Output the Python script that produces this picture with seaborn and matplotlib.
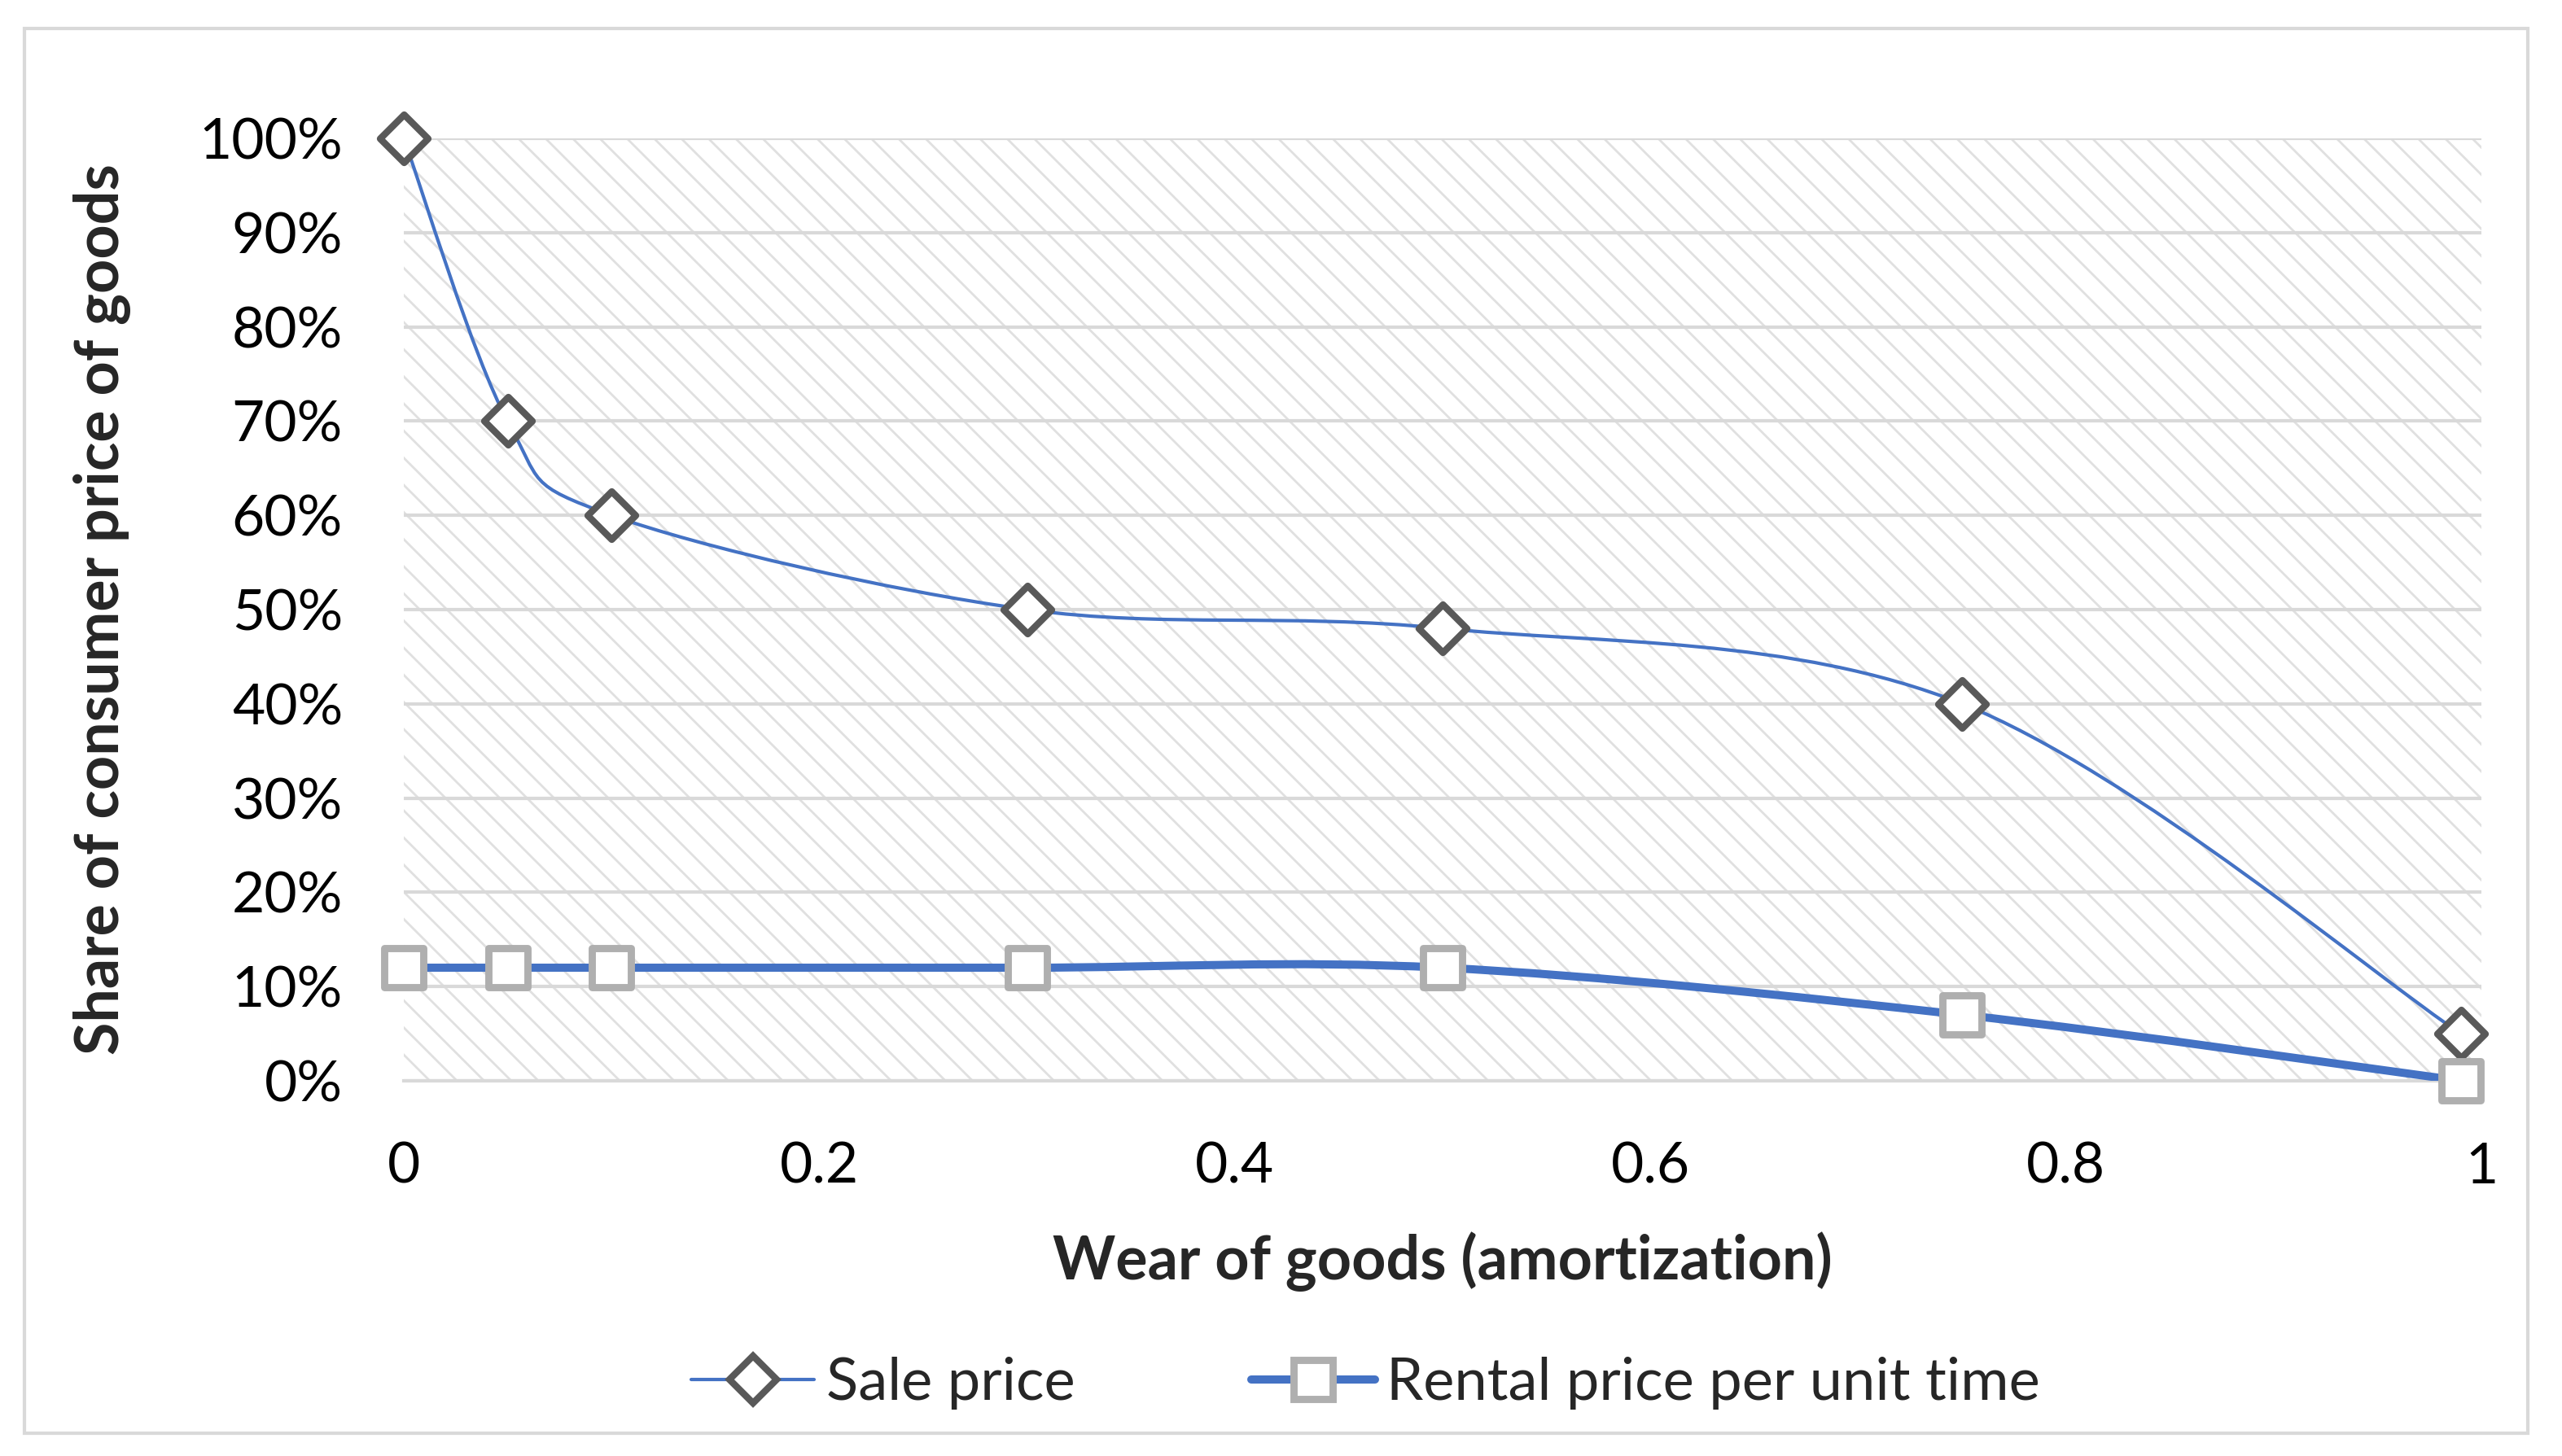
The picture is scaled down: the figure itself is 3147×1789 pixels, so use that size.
import numpy as np
import pandas as pd
import matplotlib
matplotlib.use('Agg')
import matplotlib.pyplot as plt
from matplotlib.path import Path
from matplotlib.patches import PathPatch, Rectangle
from matplotlib.lines import Line2D
import seaborn as sns

#%% data
wear = [0, 0.05, 0.1, 0.3, 0.5, 0.75, 0.99]
sale_price = [100, 70, 60, 50, 48, 40, 5]
rental_price = [12, 12, 12, 12, 12, 7, 0]
series_names = ['Sale price', 'Rental price per unit time']
y_ticks = [0, 10, 20, 30, 40, 50, 60, 70, 80, 90, 100]
y_tick_labels = ['0%', '10%', '20%', '30%', '40%', '50%', '60%', '70%', '80%', '90%', '100%']
x_ticks = [0, 0.2, 0.4, 0.6, 0.8, 1]
x_tick_labels = ['0', '0.2', '0.4', '0.6', '0.8', '1']

df = pd.DataFrame({'wear': wear * 2,
                   'share': sale_price + rental_price,
                   'series': [series_names[0]] * len(wear) + [series_names[1]] * len(wear)})

#%% style
sns.set_theme(style='white')
plt.rcParams['font.family'] = ['Lato', 'DejaVu Sans']
plt.rcParams['hatch.linewidth'] = 1.0
blue = '#4472C4'
grid_col = '#d9d9d9'
diamond_col = '#595959'
square_col = '#afafaf'

def smooth_path(xs, ys):
    # excel-like smoothed line (catmull-rom as cubic bezier)
    pts = np.column_stack([xs, ys]).astype(float)
    n = len(pts)
    verts = [pts[0]]
    codes = [Path.MOVETO]
    for i in range(n - 1):
        p0 = pts[i - 1] if i > 0 else pts[i]
        p1 = pts[i]
        p2 = pts[i + 1]
        p3 = pts[i + 2] if i + 2 < n else pts[i + 1]
        verts += [p1 + (p2 - p0) / 6, p2 - (p3 - p1) / 6, p2]
        codes += [Path.CURVE4] * 3
    return Path(verts, codes)

fig = plt.figure(figsize=(15.735, 8.945), dpi=200)
ax = fig.add_axes([0.1576, 0.2577, 0.811, 0.6473])

# hatched plot area
ax.add_patch(Rectangle((0, 0), 1, 1, transform=ax.transAxes, facecolor='white',
                       edgecolor='#e0e0e0', hatch='\\\\', linewidth=0, zorder=0))

ax.set_xlim(0, 1)
ax.set_ylim(0, 100)
ax.set_yticks(y_ticks)
ax.set_yticklabels(y_tick_labels)
ax.set_xticks(x_ticks)
ax.set_xticklabels(x_tick_labels)
ax.tick_params(axis='both', length=0, labelsize=25, colors='black')
ax.tick_params(axis='y', pad=27)
ax.tick_params(axis='x', pad=27)
ax.yaxis.grid(True, color=grid_col, linewidth=1.5, zorder=1)
ax.set_axisbelow(True)
for s in ['top', 'right', 'left']:
    ax.spines[s].set_visible(False)
ax.spines['bottom'].set_color(grid_col)
ax.spines['bottom'].set_linewidth(1.5)

# smoothed lines
ax.add_patch(PathPatch(smooth_path(wear, sale_price), facecolor='none', edgecolor=blue,
                       linewidth=1.5, zorder=3, capstyle='round'))
ax.add_patch(PathPatch(smooth_path(wear, rental_price), facecolor='none', edgecolor=blue,
                       linewidth=3.6, zorder=3, capstyle='round'))

# markers
sns.scatterplot(data=df[df.series == series_names[0]], x='wear', y='share', marker='D',
                s=15 ** 2, color='white', edgecolor=diamond_col, linewidth=3,
                zorder=4, clip_on=False, ax=ax, legend=False)
sns.scatterplot(data=df[df.series == series_names[1]], x='wear', y='share', marker='s',
                s=17 ** 2, color='white', edgecolor=square_col, linewidth=3.2,
                zorder=5, clip_on=False, ax=ax, legend=False)

ax.set_xlabel('Wear of goods (amortization)', fontsize=26.5, fontweight='bold', labelpad=17)
ax.set_ylabel('Share of consumer price of goods', fontsize=26.5, fontweight='bold', labelpad=30)

handles = [Line2D([], [], color=blue, lw=1.5, marker='D', ms=15, mfc='white', mec=diamond_col, mew=3),
           Line2D([], [], color=blue, lw=3.6, marker='s', ms=17, mfc='white', mec=square_col, mew=3.2)]
fig.legend(handles, series_names, loc='center', bbox_to_anchor=(0.533, 0.05), ncol=2,
           frameon=False, fontsize=26, handlelength=2.1, handletextpad=0.2, columnspacing=3.0)

# chart area border
fig.patches.append(Rectangle((30 / 3147, 1 - 1761 / 1789), 3075 / 3147, 1726 / 1789,
                             transform=fig.transFigure, facecolor='none', edgecolor=grid_col,
                             linewidth=1.5))

plt.savefig('out.png', dpi=200)
